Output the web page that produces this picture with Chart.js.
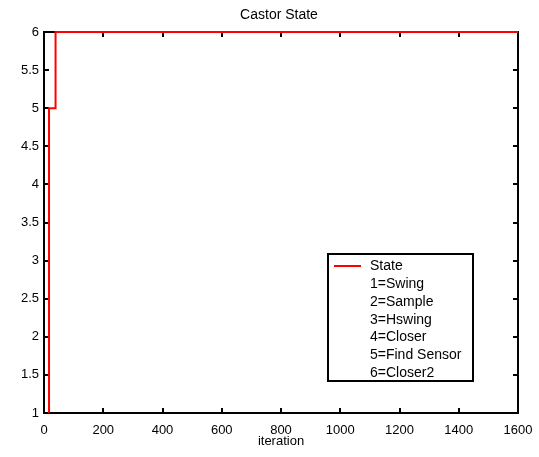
<!DOCTYPE html>
<html>
<head>
<meta charset="utf-8">
<script src="https://cdn.jsdelivr.net/npm/chart.js@4.4.0/dist/chart.umd.min.js"></script>
<style>
  html, body { margin: 0; padding: 0; background: #fff; }
  #wrap { width: 539px; height: 457px; position: relative; }
</style>
</head>
<body>
<div id="wrap"><canvas id="grafico"></canvas></div>
<script>
// Estado do castor ao longo das iteracoes (degraus)
const iteracoes = [17, 17, 39, 39, 1600];
const estados   = [1, 5, 5, 6, 6];

const xTicks = [0, 200, 400, 600, 800, 1000, 1200, 1400, 1600];
const yTicks = [1, 1.5, 2, 2.5, 3, 3.5, 4, 4.5, 5, 5.5, 6];

const tituloTxt = 'Castor State';
const eixoXTxt = 'iteration';
const legendaSerie = 'State';
const legendaLinhas = ['1=Swing', '2=Sample', '3=Hswing', '4=Closer', '5=Find Sensor', '6=Closer2'];

const FONTE = '"Liberation Sans", Arial, sans-serif';
const VERMELHO = '#ff0000';

// Moldura estilo matlab: caixa fechada com ticks para dentro nos 4 lados
const moldura = {
    id: 'moldura',
    beforeDatasetsDraw(chart) {
        const { ctx, chartArea: a, scales: { x, y } } = chart;
        const tl = 5;
        ctx.save();
        ctx.strokeStyle = '#000';
        ctx.lineWidth = 2;
        ctx.strokeRect(a.left, a.top, a.right - a.left, a.bottom - a.top);
        ctx.beginPath();
        xTicks.forEach(v => {
            const px = Math.round(x.getPixelForValue(v));
            ctx.moveTo(px, a.bottom); ctx.lineTo(px, a.bottom - tl);
            ctx.moveTo(px, a.top);    ctx.lineTo(px, a.top + tl);
        });
        yTicks.forEach(v => {
            const py = Math.round(y.getPixelForValue(v));
            ctx.moveTo(a.left, py);  ctx.lineTo(a.left + tl, py);
            ctx.moveTo(a.right, py); ctx.lineTo(a.right - tl, py);
        });
        ctx.stroke();
        ctx.restore();
    },
    afterDraw(chart) {
        const { ctx, chartArea: a } = chart;
        ctx.save();
        // titulo
        ctx.fillStyle = '#000';
        ctx.font = '14px ' + FONTE;
        ctx.textAlign = 'center';
        ctx.textBaseline = 'middle';
        ctx.fillText(tituloTxt, (a.left + a.right) / 2 - 2, 15);

        // legenda
        const bx = 328, by = 254, bw = 145, bh = 127, passo = 17.9;
        ctx.fillStyle = '#fff';
        ctx.fillRect(bx, by, bw, bh);
        ctx.strokeStyle = '#000';
        ctx.lineWidth = 2;
        ctx.strokeRect(bx, by, bw, bh);
        ctx.strokeStyle = VERMELHO;
        ctx.beginPath();
        ctx.moveTo(334, 266); ctx.lineTo(361, 266);
        ctx.stroke();
        ctx.fillStyle = '#000';
        ctx.font = '14px ' + FONTE;
        ctx.textAlign = 'left';
        [legendaSerie, ...legendaLinhas].forEach((t, i) => {
            ctx.fillText(t, 370, 266 + i * passo);
        });
        ctx.restore();
    }
};

new Chart(document.getElementById('grafico'), {
    type: 'line',
    data: {
        datasets: [{
            label: legendaSerie,
            data: iteracoes.map((v, i) => ({ x: v, y: estados[i] })),
            borderColor: VERMELHO,
            borderWidth: 2,
            pointRadius: 0,
            tension: 0,
            fill: false,
            clip: 3
        }]
    },
    options: {
        responsive: true,
        maintainAspectRatio: false,
        animation: false,
        layout: { padding: { left: 0, right: 21, top: 32, bottom: 0 } },
        plugins: { legend: { display: false }, tooltip: { enabled: false } },
        scales: {
            x: {
                type: 'linear',
                min: 0, max: 1600,
                afterFit: s => { s.height = 44; s.paddingLeft = 0; s.paddingRight = 0; },
                afterBuildTicks: s => { s.ticks = xTicks.map(v => ({ value: v })); },
                grid: { display: false, drawTicks: false },
                border: { display: false },
                ticks: { color: '#000', font: { family: FONTE, size: 13 }, padding: 10, maxRotation: 0, callback: v => String(v) },
                title: { display: true, text: eixoXTxt, color: '#000', font: { family: FONTE, size: 13 }, padding: { top: 0, bottom: 8 } }
            },
            y: {
                min: 1, max: 6,
                afterFit: s => { s.width = 44; s.paddingTop = 0; s.paddingBottom = 0; },
                afterBuildTicks: s => { s.ticks = yTicks.map(v => ({ value: v })); },
                grid: { display: false, drawTicks: false },
                border: { display: false },
                ticks: { color: '#000', font: { family: FONTE, size: 13 }, padding: 5, callback: v => String(v) }
            }
        }
    },
    plugins: [moldura]
});
</script>
</body>
</html>
